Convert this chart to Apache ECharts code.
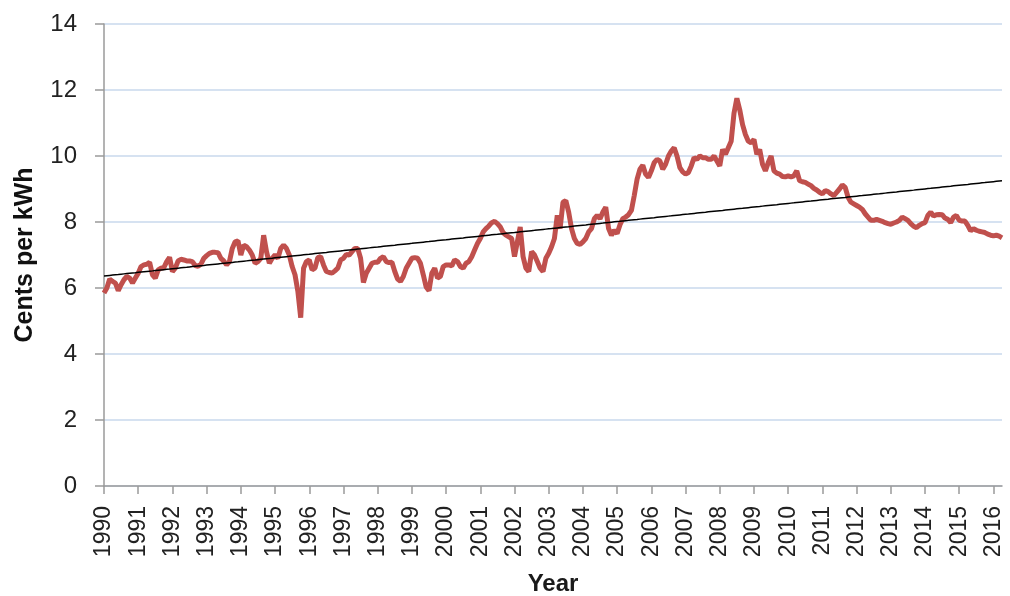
<!DOCTYPE html>
<html>
<head>
<meta charset="utf-8">
<script src="https://cdn.jsdelivr.net/npm/echarts@6/dist/echarts.min.js"></script>
<style>
  html, body { margin: 0; padding: 0; background: #fff; }
  #main { width: 1010px; height: 596px; }
</style>
</head>
<body>
<div id="main"></div>
<script>
// monthly data, Jan 1990 .. Apr 2016
const startYear = 1990;
const yearLabels = ['1990','1991','1992','1993','1994','1995','1996','1997','1998','1999','2000','2001','2002',
  '2003','2004','2005','2006','2007','2008','2009','2010','2011','2012','2013','2014','2015','2016'];
const yTicks = [0, 2, 4, 6, 8, 10, 12, 14];

const cents = [
  5.85, 6.0, 6.27, 6.2, 6.15, 5.92, 6.1, 6.25, 6.35, 6.3, 6.15, 6.3,        // 1990
  6.45, 6.65, 6.7, 6.72, 6.78, 6.4, 6.3, 6.55, 6.6, 6.62, 6.8, 6.93,        // 1991
  6.5, 6.6, 6.82, 6.87, 6.85, 6.82, 6.82, 6.8, 6.68, 6.66, 6.72, 6.9,       // 1992
  6.98, 7.05, 7.08, 7.08, 7.07, 6.9, 6.82, 6.7, 6.8, 7.2, 7.4, 7.43,        // 1993
  7.0, 7.3, 7.25, 7.15, 7.0, 6.75, 6.8, 6.9, 7.6, 7.1, 6.75, 6.9,           // 1994
  7.0, 6.9, 7.2, 7.3, 7.2, 7.0, 6.65, 6.4, 5.9, 5.1, 6.6, 6.8,              // 1995
  6.85, 6.55, 6.6, 6.92, 6.95, 6.7, 6.5, 6.47, 6.45, 6.52, 6.6, 6.85,       // 1996
  6.9, 7.02, 7.0, 7.1, 7.2, 7.2, 6.9, 6.17, 6.45, 6.6, 6.75, 6.78,          // 1997
  6.78, 6.9, 6.95, 6.8, 6.77, 6.78, 6.5, 6.27, 6.2, 6.35, 6.6, 6.75,        // 1998
  6.9, 6.92, 6.9, 6.75, 6.4, 6.03, 5.92, 6.45, 6.6, 6.3, 6.35, 6.65,        // 1999
  6.7, 6.7, 6.67, 6.85, 6.8, 6.65, 6.6, 6.75, 6.8, 6.95, 7.15, 7.35,        // 2000
  7.5, 7.7, 7.8, 7.88, 7.98, 8.02, 7.95, 7.85, 7.68, 7.6, 7.55, 7.5,        // 2001
  6.95, 7.4, 7.85, 6.95, 6.6, 6.5, 7.1, 7.0, 6.8, 6.6, 6.5, 6.9,            // 2002
  7.05, 7.25, 7.5, 8.2, 7.8, 8.6, 8.65, 8.3, 7.8, 7.5, 7.35, 7.32,          // 2003
  7.4, 7.5, 7.7, 7.8, 8.1, 8.2, 8.1, 8.3, 8.45, 7.8, 7.6, 7.75,             // 2004
  7.65, 7.92, 8.1, 8.15, 8.22, 8.35, 8.8, 9.3, 9.6, 9.72, 9.45, 9.35,       // 2005
  9.55, 9.8, 9.9, 9.85, 9.6, 9.75, 10.0, 10.15, 10.25, 10.0, 9.65, 9.52,    // 2006
  9.45, 9.5, 9.7, 9.95, 9.9, 10.0, 9.95, 9.95, 9.9, 9.9, 10.0, 9.85,        // 2007
  9.7, 10.2, 10.05, 10.25, 10.45, 11.3, 11.75, 11.4, 10.95, 10.65, 10.45, 10.4, // 2008
  10.5, 10.05, 10.2, 9.75, 9.55, 9.8, 10.0, 9.55, 9.48, 9.45, 9.38, 9.37,   // 2009
  9.4, 9.37, 9.4, 9.55, 9.25, 9.22, 9.2, 9.15, 9.1, 9.02, 8.97, 8.9,        // 2010
  8.85, 8.95, 8.92, 8.85, 8.8, 8.9, 9.0, 9.12, 9.05, 8.75, 8.6, 8.55,       // 2011
  8.5, 8.45, 8.38, 8.25, 8.15, 8.05, 8.05, 8.08, 8.05, 8.02, 7.98, 7.95,    // 2012
  7.93, 7.97, 8.0, 8.05, 8.15, 8.1, 8.05, 7.95, 7.87, 7.83, 7.9, 7.95,      // 2013
  7.98, 8.2, 8.3, 8.18, 8.22, 8.23, 8.22, 8.12, 8.08, 7.98, 8.15, 8.2,      // 2014
  8.05, 8.03, 8.03, 7.9, 7.73, 7.8, 7.75, 7.72, 7.7, 7.68, 7.63, 7.6,       // 2015
  7.58, 7.6, 7.57, 7.52                                                    // 2016
];

// month categories
let months = [];
for (let i = 0; i < cents.length; i++) {
    let y = startYear + Math.floor(i / 12);
    months.push(y + '-' + String(i % 12 + 1).padStart(2, '0'));
}

// linear trendline (least squares), like the spreadsheet one
function trend(vals) {
    let n = vals.length, sx = 0, sy = 0, sxy = 0, sxx = 0;
    vals.forEach(function (v, i) { sx += i; sy += v; sxy += i * v; sxx += i * i; });
    let b = (n * sxy - sx * sy) / (n * sxx - sx * sx);
    let a = (sy - b * sx) / n;
    return vals.map(function (v, i) { return +(a + b * i).toFixed(3); });
}

const fontFam = '"Liberation Sans", Arial, sans-serif';
let isYearStart = function (idx) { return idx % 12 === 0; };

let option = {
    animation: false,
    grid: { left: 104, right: 8, top: 24, bottom: 110, containLabel: false, outerBoundsMode: 'none' },
    xAxis: {
        type: 'category',
        data: months,
        boundaryGap: false,
        name: 'Year',
        nameLocation: 'middle',
        nameGap: 86,
        nameTextStyle: { fontFamily: fontFam, fontSize: 24, fontWeight: 'bold', color: '#1a1a1a' },
        axisLine: { lineStyle: { color: '#9a9a9a', width: 1.5 } },
        axisTick: { interval: isYearStart, length: 8, lineStyle: { color: '#9a9a9a', width: 1.5 } },
        axisLabel: {
            interval: isYearStart,
            rotate: 90,
            margin: 20,
            fontFamily: fontFam,
            fontSize: 23,
            color: '#222',
            formatter: function (v) { return v.slice(0, 4); }
        },
        splitLine: { show: false }
    },
    yAxis: {
        type: 'value',
        min: yTicks[0],
        max: yTicks[yTicks.length - 1],
        interval: 2,
        name: 'Cents per kWh',
        nameLocation: 'middle',
        nameGap: 66,
        nameTextStyle: { fontFamily: fontFam, fontSize: 25, fontWeight: 'bold', color: '#111' },
        axisLine: { show: true, lineStyle: { color: '#9a9a9a', width: 1.5 } },
        axisTick: { show: true, length: 9, lineStyle: { color: '#9a9a9a', width: 1.5 } },
        axisLabel: { margin: 27, fontFamily: fontFam, fontSize: 24, color: '#222' },
        splitLine: { lineStyle: { color: '#c9d8ec', width: 1.5 } }
    },
    series: [{
        name: 'Price',
        type: 'line',
        data: cents,
        showSymbol: false,
        z: 2,
        lineStyle: { color: '#c0504d', width: 5 }
    }, {
        name: 'Trend',
        type: 'line',
        data: trend(cents),
        showSymbol: false,
        z: 3,
        lineStyle: { color: '#000', width: 1.5 }
    }]
};

let myChart = echarts.init(document.getElementById('main'));
myChart.setOption(option);
</script>
</body>
</html>
